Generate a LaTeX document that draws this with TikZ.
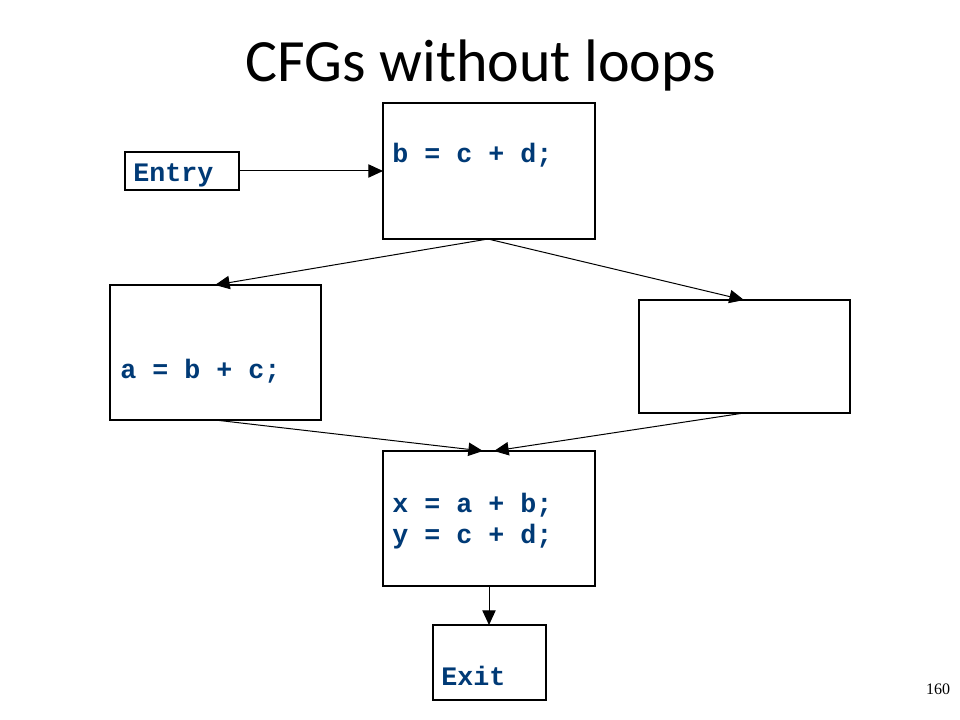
\documentclass[tikz,border=0pt]{standalone}
\usepackage{fontspec}
\setmainfont{Liberation Serif}
\newfontfamily\titlefont{Carlito}
\newfontfamily\codefont{Liberation Mono}
\usetikzlibrary{arrows.meta}
\definecolor{codeblue}{RGB}{0,58,118}
\tikzset{
  blk/.style={draw=black, line width=0.9pt, fill=white},
  code/.style={anchor=base west, inner sep=0pt, text=codeblue, font=\codefont\bfseries\fontsize{20pt}{23.25pt}\selectfont},
  edge/.style={draw=black, line width=0.75pt, -{Triangle[length=11pt,width=10pt]}}
}
\begin{document}
\begin{tikzpicture}[x=0.75pt,y=-0.75pt]
\useasboundingbox (0,0) rectangle (960,720);
% title
\node[font=\titlefont\fontsize{45pt}{54pt}\selectfont, anchor=base] (title) at (481,82) {CFGs without loops};
% boxes
\draw[blk] (125,152) rectangle (239,190);
\coordinate (entryE) at (239,171);
\draw[blk] (383,103) rectangle (595,239);
\coordinate (bW) at (383,171);
\coordinate (bS) at (488,239);
\draw[blk] (110,285) rectangle (321,420);
\coordinate (aN) at (215,285);
\coordinate (aS) at (215,420);
\draw[blk] (639,300) rectangle (850,413);
\coordinate (cN) at (744,300);
\coordinate (cS) at (744,413);
\draw[blk] (383,451) rectangle (595,586);
\coordinate (xNl) at (483,451);
\coordinate (xNr) at (494,451);
\coordinate (xS) at (489,586);
\draw[blk] (433,625) rectangle (546,700);
\coordinate (exitN) at (489,625);
% texts
\node[code] (entry) at (133,182) {Entry};
\node[code] (btxt) at (392,163) {b = c + d;};
\node[code] (atxt) at (120,378) {a = b + c;};
\node[code] (xtxt) at (392,512) {x = a + b;};
\node[code] (ytxt) at (392,543) {y = c + d;};
\node[code] (exit) at (441,685) {Exit};
% edges
\draw[edge] (entryE) -- (bW);
\draw[edge] (bS) -- (aN);
\draw[edge] (bS) -- (cN);
\draw[edge] (aS) -- (xNl);
\draw[edge] (cS) -- (xNr);
\draw[edge] (xS) -- (exitN);
% page number
\node[font=\fontsize{12pt}{14pt}\selectfont, anchor=base] (pg) at (938,694) {160};
\end{tikzpicture}
\end{document}
